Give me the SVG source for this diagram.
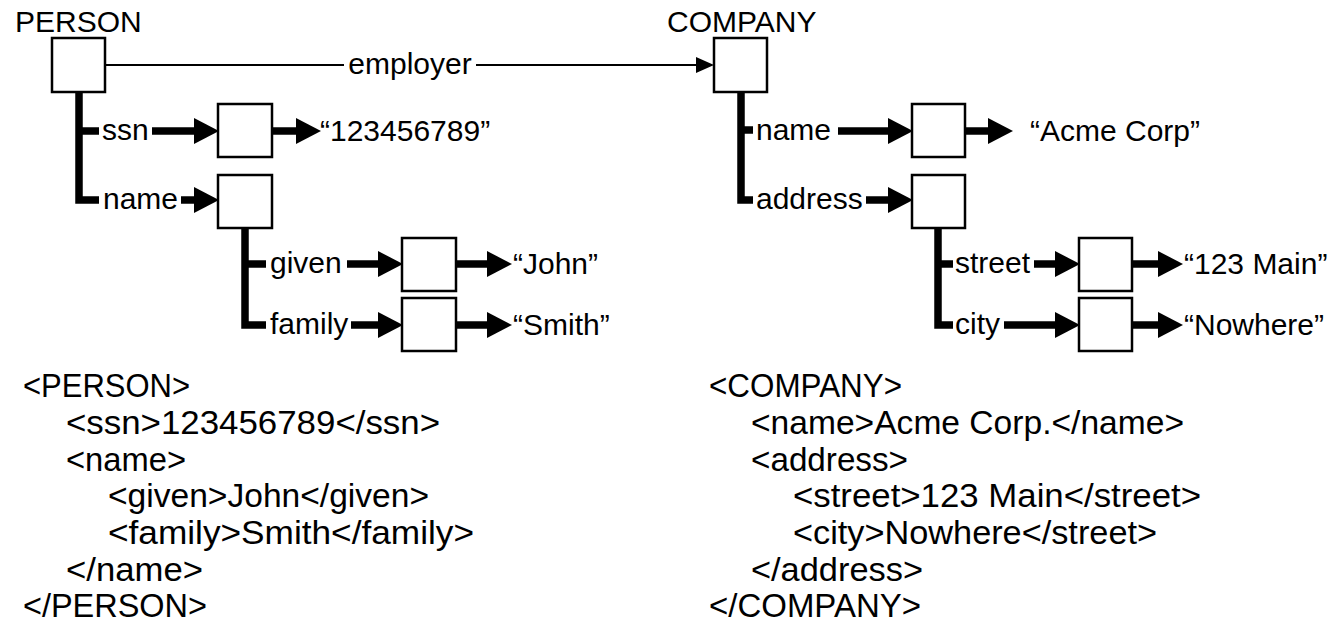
<svg xmlns="http://www.w3.org/2000/svg" width="1336" height="624" viewBox="0 0 1336 624">
<style>
.bx{fill:#fff;stroke:#000;stroke-width:2.5}
.lbl{font-family:"Liberation Sans",Arial,sans-serif;font-size:30px;fill:#000}
.code{font-family:"Liberation Sans",Arial,sans-serif;font-size:34px;fill:#000}
.thick{fill:none;stroke:#000;stroke-width:7.5;stroke-linejoin:miter}
.thin{fill:none;stroke:#000;stroke-width:2}
</style>
<defs>
<marker id="ah" markerUnits="userSpaceOnUse" markerWidth="26" markerHeight="26" refX="0" refY="13" orient="auto">
<path d="M0,0 L25,13 L0,26 z" fill="#000"/>
</marker>
<marker id="ahs" markerUnits="userSpaceOnUse" markerWidth="19" markerHeight="16" refX="0" refY="8" orient="auto">
<path d="M0,0 L18,8 L0,16 z" fill="#000"/>
</marker>
</defs>
<rect width="1336" height="624" fill="#fff"/>

<g id="connectors">
<path class="thin" d="M105,65 H344"/>
<path class="thin" d="M476,65 H696" marker-end="url(#ahs)"/>
<text class="lbl" x="410" y="74" text-anchor="middle">employer</text>

<path class="thick" d="M79,92 V200 H99"/>
<path class="thick" d="M79,131 H99"/>
<path class="thick" d="M152,131 H194" marker-end="url(#ah)"/>
<path class="thick" d="M272,131 H296" marker-end="url(#ah)"/>
<path class="thick" d="M181,200 H194" marker-end="url(#ah)"/>
<path class="thick" d="M245,228 V325 H266"/>
<path class="thick" d="M245,264 H266"/>
<path class="thick" d="M347,264 H378" marker-end="url(#ah)"/>
<path class="thick" d="M456,264 H487" marker-end="url(#ah)"/>
<path class="thick" d="M351,325 H378" marker-end="url(#ah)"/>
<path class="thick" d="M456,325 H487" marker-end="url(#ah)"/>

<path class="thick" d="M741,92 V200 H753"/>
<path class="thick" d="M741,130 H753"/>
<path class="thick" d="M838,131 H888" marker-end="url(#ah)"/>
<path class="thick" d="M965,131 H988" marker-end="url(#ah)"/>
<path class="thick" d="M866,200 H888" marker-end="url(#ah)"/>
<path class="thick" d="M938,228 V325 H953"/>
<path class="thick" d="M938,264 H953"/>
<path class="thick" d="M1034,264 H1055" marker-end="url(#ah)"/>
<path class="thick" d="M1132,264 H1158" marker-end="url(#ah)"/>
<path class="thick" d="M1004,325 H1055" marker-end="url(#ah)"/>
<path class="thick" d="M1132,325 H1158" marker-end="url(#ah)"/>

<text class="lbl" x="102" y="140">ssn</text>
<text class="lbl" x="103" y="209">name</text>
<text class="lbl" x="270" y="273">given</text>
<text class="lbl" x="270" y="334">family</text>
<text class="lbl" x="756" y="140">name</text>
<text class="lbl" x="756" y="209">address</text>
<text class="lbl" x="955" y="273">street</text>
<text class="lbl" x="955" y="334">city</text>
</g>

<g id="person">
<text class="lbl" x="15" y="32">PERSON</text>
<rect class="bx" x="52" y="38" width="53" height="54"/>
</g>
<g id="ssn"><rect class="bx" x="218" y="104" width="54" height="53"/></g>
<g id="ssn-value"><text class="lbl" x="320" y="141">“123456789”</text></g>
<g id="name"><rect class="bx" x="218" y="175" width="54" height="53"/></g>
<g id="given"><rect class="bx" x="402" y="238" width="54" height="53"/></g>
<g id="given-value"><text class="lbl" x="513" y="274">“John”</text></g>
<g id="family"><rect class="bx" x="402" y="298" width="54" height="53"/></g>
<g id="family-value"><text class="lbl" x="513" y="335">“Smith”</text></g>

<g id="company">
<text class="lbl" x="667" y="32">COMPANY</text>
<rect class="bx" x="714" y="38" width="53" height="54"/>
</g>
<g id="cname"><rect class="bx" x="912" y="104" width="53" height="53"/></g>
<g id="cname-value"><text class="lbl" x="1030" y="141">“Acme Corp”</text></g>
<g id="address"><rect class="bx" x="912" y="175" width="53" height="53"/></g>
<g id="street"><rect class="bx" x="1079" y="238" width="53" height="53"/></g>
<g id="street-value"><text class="lbl" x="1184" y="274">“123 Main”</text></g>
<g id="city"><rect class="bx" x="1079" y="298" width="53" height="53"/></g>
<g id="city-value"><text class="lbl" x="1184" y="335">“Nowhere”</text></g>

<g id="person-xml">
<text class="code" x="23" y="397" textLength="167" lengthAdjust="spacingAndGlyphs">&lt;PERSON&gt;</text>
<text class="code" x="66" y="434" textLength="374" lengthAdjust="spacingAndGlyphs">&lt;ssn&gt;123456789&lt;/ssn&gt;</text>
<text class="code" x="66" y="471" textLength="120" lengthAdjust="spacingAndGlyphs">&lt;name&gt;</text>
<text class="code" x="108" y="507" textLength="321" lengthAdjust="spacingAndGlyphs">&lt;given&gt;John&lt;/given&gt;</text>
<text class="code" x="108" y="544" textLength="366" lengthAdjust="spacingAndGlyphs">&lt;family&gt;Smith&lt;/family&gt;</text>
<text class="code" x="66" y="581" textLength="137" lengthAdjust="spacingAndGlyphs">&lt;/name&gt;</text>
<text class="code" x="23" y="617" textLength="184" lengthAdjust="spacingAndGlyphs">&lt;/PERSON&gt;</text>
</g>
<g id="company-xml">
<text class="code" x="709" y="397" textLength="193" lengthAdjust="spacingAndGlyphs">&lt;COMPANY&gt;</text>
<text class="code" x="751" y="434" textLength="433" lengthAdjust="spacingAndGlyphs">&lt;name&gt;Acme Corp.&lt;/name&gt;</text>
<text class="code" x="751" y="471" textLength="157" lengthAdjust="spacingAndGlyphs">&lt;address&gt;</text>
<text class="code" x="793" y="507" textLength="408" lengthAdjust="spacingAndGlyphs">&lt;street&gt;123 Main&lt;/street&gt;</text>
<text class="code" x="793" y="544" textLength="364" lengthAdjust="spacingAndGlyphs">&lt;city&gt;Nowhere&lt;/street&gt;</text>
<text class="code" x="751" y="581" textLength="172" lengthAdjust="spacingAndGlyphs">&lt;/address&gt;</text>
<text class="code" x="709" y="617" textLength="212" lengthAdjust="spacingAndGlyphs">&lt;/COMPANY&gt;</text>
</g>
</svg>
